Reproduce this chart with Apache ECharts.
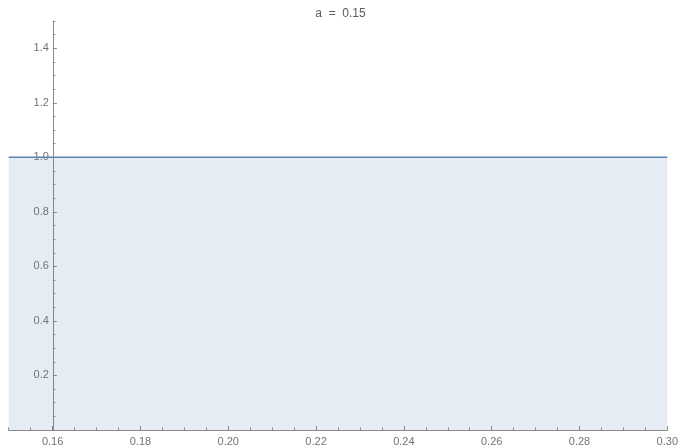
<!DOCTYPE html>
<html>
<head>
<meta charset="utf-8">
<script src="https://cdn.jsdelivr.net/npm/echarts@6/dist/echarts.min.js"></script>
<style>
  html, body { margin: 0; padding: 0; background: #fff; }
  #chart { width: 681px; height: 447px; }
</style>
</head>
<body>
<div id="chart"></div>
<script>
// Plotted function: constant 1 across the whole domain, filled down to the axis
const xValues = [0.15, 0.30];
const yValues = [1, 1];

// Labelled (major) ticks
const xTicks = [0.16, 0.18, 0.20, 0.22, 0.24, 0.26, 0.28, 0.30];
const yTicks = [0.2, 0.4, 0.6, 0.8, 1.0, 1.2, 1.4];

const titleText = 'a  =  0.15';

const X_MIN = 0.15, X_MAX = 0.30, Y_MIN = 0, Y_MAX = 1.5;
const Y_AXIS_AT = 0.16; // the vertical axis crosses here

const GRID = { left: 8.7, right: 9.7, top: 21, bottom: 15.5 };
const W = 681;
const plotW = W - GRID.left - GRID.right;
const yAxisShift = (Y_AXIS_AT - X_MIN) / (X_MAX - X_MIN) * plotW;

const axisGray = '#8a8a8a';
const labelGray = '#737373';
const font = 'Liberation Sans, Arial, sans-serif';

const chart = echarts.init(document.getElementById('chart'), null, { renderer: 'canvas' });

chart.setOption({
  backgroundColor: '#ffffff',
  animation: false,
  title: {
    text: titleText,
    left: 'center',
    top: 3,
    textStyle: { fontSize: 12, fontWeight: 'normal', color: '#5a5a5a', fontFamily: font }
  },
  grid: { left: GRID.left, right: GRID.right, top: GRID.top, bottom: GRID.bottom, containLabel: false },
  xAxis: [
    {
      // minor ticks + axis line
      type: 'value', position: 'bottom', min: X_MIN, max: X_MAX, interval: 0.005,
      axisLine: { show: true, lineStyle: { color: axisGray, width: 1 } },
      axisTick: { show: true, inside: true, length: 2.5, lineStyle: { color: axisGray } },
      axisLabel: { show: false },
      splitLine: { show: false }
    },
    {
      // major ticks with labels
      type: 'value', position: 'bottom', min: X_MIN, max: X_MAX,
      axisLine: { show: false },
      axisTick: { show: true, inside: true, length: 4, customValues: xTicks, lineStyle: { color: axisGray } },
      axisLabel: {
        show: true, customValues: xTicks, margin: 6, fontSize: 11, color: labelGray, fontFamily: font,
        formatter: v => v.toFixed(2)
      },
      splitLine: { show: false }
    }
  ],
  yAxis: [
    {
      type: 'value', position: 'left', offset: -yAxisShift, min: Y_MIN, max: Y_MAX, interval: 0.05,
      axisLine: { show: true, lineStyle: { color: axisGray, width: 1 } },
      axisTick: { show: true, inside: true, length: 2.5, lineStyle: { color: axisGray } },
      axisLabel: { show: false },
      splitLine: { show: false }
    },
    {
      type: 'value', position: 'left', offset: -yAxisShift, min: Y_MIN, max: Y_MAX,
      axisLine: { show: false },
      axisTick: { show: true, inside: true, length: 4, customValues: yTicks, lineStyle: { color: axisGray } },
      axisLabel: {
        show: true, customValues: yTicks, margin: 4, fontSize: 11, color: labelGray, fontFamily: font,
        formatter: v => v.toFixed(1)
      },
      splitLine: { show: false }
    }
  ],
  series: [
    {
      type: 'line',
      xAxisIndex: 0,
      yAxisIndex: 0,
      data: xValues.map((x, i) => [x, yValues[i]]),
      showSymbol: false,
      lineStyle: { color: '#5E81B5', width: 1.5 },
      areaStyle: { color: 'rgba(94,129,181,0.22)', origin: 'start' }
    }
  ]
});
</script>
</body>
</html>
